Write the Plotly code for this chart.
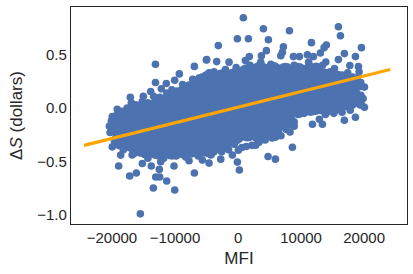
import plotly.graph_objects as go

mfi = [840,4020,8150,15920,16240,-110,1640,4810,11640,-3130,7190,14010,13650,19570,4490,7030,6780,13060,16870,18620,
       -4970,1790,3700,8780,9730,11000,11950,-3390,-1430,1160,15920,13920,17730,19100,12590,19200,19470,20050,19840,20050,
       18620,16870,15190,13860,12900,11800,13380,8890,10480,8250,8620,4760,5930,-110,210,-2750,-4600,-900,50,2810,5980,
       -15500,-10050,-13440,-11320,-13060,-12430,-17190,-16140,-18940,-12490,-6930,-10160,-15190,-13760,-18620,-19950,-12270,-7780,-5660,-16500,
       -13100,-6930,-5030,-9310,-13100,-12170,-11380,-10050,-13860,-15030,-17090,-16930,-19160,-19950,-20200,-7780,-6190,-5130,
       # upper rim
       -18400,-17600,-16200,-15200,-14300,-13400,-12400,-11300,-10500,-9700,-8800,-8100,-7200,-6600,-5700,-4600,-3800,-2700,-2000,-1000,-300,
       700,1900,2800,3600,5200,6000,7800,8900,10200,11200,12400,13400,14600,15300,16500,17400,18200,18900,
       # lower rim
       19300,18600,17800,16500,15200,14100,12300,10800,9600,8900,7600,6800,6000,5400,4300,3300,2200,1300,600,-600,-1500,-2600,-3400,-4300,-5400,-6300,-7400,-8300,-9000,-9800,
       -10900,-11800,-13200,-14300,-15600,-16800,-17500,-18200,-19000,-19600,-20300,-20400,-20100,
       # right flank
       19300,19500,18800,19000,18700,18200,19600,18300,17800]
ds = [.846,.743,.725,.762,.678,.65,.65,.64,.613,.585,.575,.59,.566,.566,.538,.522,.49,.516,.51,.482,
      .454,.482,.49,.482,.482,.5,.482,.435,.43,.445,.454,.432,.398,.389,.376,.339,.24,.196,.09,.007,
      -.087,-.115,-.05,-.06,-.105,-.152,-.152,-.17,-.05,-.224,-.367,-.454,-.479,-.507,-.581,-.479,-.516,-.441,-.395,-.348,-.27,
      -.992,-.768,-.749,-.684,-.647,-.647,-.637,-.609,-.544,-.575,-.609,-.544,-.52,-.544,-.441,-.364,-.504,-.494,-.488,-.426,
      .41,.39,.45,.32,.24,.18,.23,.26,.155,.11,.10,.05,-.012,-.08,-.175,.215,.28,.31,
      # upper rim
      -.03,.0,.03,.06,.05,.11,.10,.14,.17,.16,.22,.20,.27,.25,.29,.33,.34,.31,.36,.33,.38,
      .35,.40,.38,.43,.41,.36,.38,.40,.37,.43,.39,.40,.34,.37,.31,.33,.29,.28,
      # lower rim
      .03,.06,-.02,-.04,-.02,-.04,-.03,-.03,-.06,-.13,-.20,-.26,-.27,-.28,-.30,-.32,-.35,-.36,-.37,-.34,-.39,-.41,-.38,-.44,-.42,-.45,-.43,-.46,-.41,-.45,
      -.42,-.47,-.44,-.47,-.42,-.44,-.36,-.39,-.33,-.31,-.23,-.17,-.12,
      # right flank
      .20,.12,.14,.07,.22,.10,.03,.27,.18]

# the dense middle of the cloud
core_mfi = [-18500,-18500,-18500,-16500,-16500,-16500,-14500,-14500,-14500,-14500,-12500,-12500,-12500,-12500,
            -10500,-10500,-10500,-10500,-10500,-8500,-8500,-8500,-8500,-8500,-6500,-6500,-6500,-6500,-6500,
            -4500,-4500,-4500,-4500,-4500,-4500,-2500,-2500,-2500,-2500,-2500,-2500,-500,-500,-500,-500,-500,
            1500,1500,1500,1500,1500,3500,3500,3500,3500,3500,3500,5500,5500,5500,5500,5500,5500,
            7500,7500,7500,7500,7500,9500,9500,9500,9500,11500,11500,11500,11500,13500,13500,13500,
            15500,15500,15500,17500,17500,17500]
core_ds = [-.10,-.20,-.30,-.06,-.19,-.33,-.02,-.14,-.26,-.38,.02,-.12,-.26,-.39,
           .08,-.06,-.19,-.31,-.39,.12,-.02,-.14,-.26,-.38,.17,.04,-.09,-.22,-.37,
           .23,.10,-.03,-.16,-.29,-.37,.27,.14,.01,-.11,-.22,-.32,.28,.15,.02,-.11,-.25,
           .32,.18,.05,-.09,-.22,.34,.20,.06,-.07,-.18,-.24,.34,.20,.07,-.05,-.13,-.19,
           .33,.20,.07,-.02,-.11,.33,.20,.07,.0,.33,.19,.06,.02,.28,.15,.03,
           .26,.15,.04,.22,.14,.07]

line_mfi = [-24440, 24130]
line_ds = [-.35, .361]

x_ticks = [-20000, -10000, 0, 10000, 20000]
y_ticks = [-1.0, -0.5, 0.0, 0.5]
y_labels = ["−1.0", "−0.5", "0.0", "0.5"]
x_labels = ["−20000", "−10000", "0", "10000", "20000"]

INK = "#262626"
BLUE = "#4C72B0"

fig = go.Figure()
fig.add_trace(go.Scatter(x=core_mfi, y=core_ds, mode="markers",
                         marker=dict(color=BLUE, size=20, line=dict(width=0))))
fig.add_trace(go.Scatter(x=mfi, y=ds, mode="markers",
                         marker=dict(color=BLUE, size=7.6, line=dict(width=0))))
fig.add_trace(go.Scatter(x=line_mfi, y=line_ds, mode="lines",
                         line=dict(color="orange", width=3.3)))

fig.update_layout(
    width=413, height=274, showlegend=False,
    paper_bgcolor="white", plot_bgcolor="white",
    margin=dict(l=71, r=6, t=6.5, b=49.5),
    font=dict(family="Liberation Sans, Arial, sans-serif", color=INK, size=15),
)
fig.update_xaxes(range=[-26500, 26800], tickvals=x_ticks, ticktext=x_labels, showgrid=False, zeroline=False,
                 showline=True, mirror=True, linecolor=INK, linewidth=1.3, ticks="",
                 title=dict(text="MFI", font=dict(size=17), standoff=6))
fig.update_yaxes(range=[-1.087, 0.947], tickvals=y_ticks, ticktext=y_labels, showgrid=False, zeroline=False,
                 showline=True, mirror=True, linecolor=INK, linewidth=1.3, ticks="",
                 title=dict(text="Δ<i>S</i> (dollars)", font=dict(size=17), standoff=10))

fig.write_html("out.html", config=dict(displayModeBar=False),
               post_script="document.body.style.margin='0';")
